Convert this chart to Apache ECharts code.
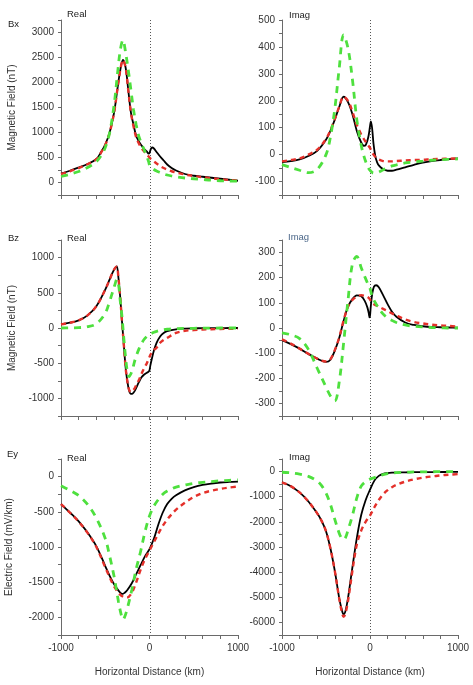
<!DOCTYPE html>
<html>
<head>
<meta charset="utf-8">
<script src="https://cdn.jsdelivr.net/npm/echarts@6/dist/echarts.min.js"></script>
<style>
  html, body { margin: 0; padding: 0; background: #fff; }
  #chart { width: 473px; height: 685px; }
</style>
</head>
<body>
<div id="chart"></div>
<script>
// ---- data ----
// Bx real
var bxReX = [-1000,-900,-800,-700,-600,-550,-500,-450,-400,-360,-330,-300,-270,-240,-210,-180,-150,-120,-90,-60,-30,-10,0,15,30,50,80,120,160,200,250,300,400,500,600,700,800,900,1000];
var bxReBlack = [180,235,300,370,470,600,760,1000,1400,1900,2250,2450,2300,1850,1400,1150,930,820,740,670,620,580,590,670,700,680,610,520,440,360,290,240,170,135,115,95,75,55,35];
var bxReRed = [170,225,290,365,465,590,750,1000,1400,1900,2250,2450,2300,1850,1400,1120,900,780,690,620,560,520,500,470,450,420,380,330,290,260,225,200,160,130,105,85,65,50,35];
var bxReGreen = [120,165,220,300,420,530,700,1000,1550,2200,2650,2850,2600,2250,1850,1450,1150,920,780,650,520,420,350,310,285,260,230,200,170,150,130,115,90,75,60,45,35,30,25];

// Bx imag
var bxImX = [-1000,-900,-800,-700,-600,-500,-450,-400,-350,-300,-250,-200,-150,-100,-70,-50,-30,-15,0,10,25,40,60,80,100,140,200,250,300,400,500,600,700,800,900,1000];
var bxImBlack = [-28,-24,-18,-5,14,55,88,130,177,215,195,150,88,45,33,35,52,72,105,123,95,40,-5,-28,-40,-52,-60,-60,-56,-47,-38,-30,-24,-20,-17,-14];
var bxImRed = [-25,-20,-14,0,18,58,90,132,178,215,200,160,110,75,58,48,38,32,25,18,8,0,-8,-14,-18,-23,-25,-25,-24,-22,-20,-19,-17,-16,-15,-14];
var bxImGreen = [-37,-48,-58,-67,-55,0,65,170,320,445,395,280,130,35,-5,-25,-42,-52,-58,-62,-66,-68,-68,-67,-65,-58,-48,-42,-38,-31,-27,-24,-21,-19,-17,-16];

// Bz real
var bzReX = [-1000,-900,-800,-700,-600,-500,-450,-420,-390,-370,-350,-330,-310,-290,-270,-250,-230,-210,-190,-170,-150,-120,-90,-60,-30,-10,0,10,30,50,80,120,160,200,300,400,500,600,700,800,900,1000];
var bzReBlack = [52,75,108,180,310,545,690,780,850,875,700,420,80,-240,-560,-760,-890,-935,-930,-900,-850,-770,-700,-660,-635,-620,-600,-530,-420,-320,-210,-120,-70,-45,-18,-9,-5,-3,-2,-1,0,0];
var bzReRed = [52,75,108,180,310,545,690,780,850,870,700,420,80,-240,-560,-760,-880,-910,-890,-860,-810,-740,-650,-570,-500,-440,-410,-380,-340,-310,-280,-210,-170,-140,-70,-40,-30,-22,-18,-14,-11,-10];
var bzReGreen = [0,2,5,18,60,210,380,500,620,690,620,380,150,-150,-420,-620,-690,-650,-580,-480,-400,-300,-220,-160,-120,-100,-95,-85,-72,-60,-48,-35,-25,-18,-10,-6,-4,-2,-1,0,0,0];

// Bz imag
var bzImX = [-1000,-900,-800,-700,-600,-500,-450,-400,-350,-300,-250,-200,-150,-100,-60,-30,-15,-5,0,10,25,45,70,100,150,200,250,300,400,500,600,700,800,900,1000];
var bzImBlack = [-48,-64,-82,-103,-122,-135,-126,-90,-40,28,85,115,130,126,108,82,60,42,48,90,135,165,170,162,130,95,65,45,22,12,7,4,3,2,1];
var bzImRed = [-45,-62,-82,-103,-122,-133,-124,-88,-38,30,85,112,125,130,128,124,120,116,113,108,100,95,90,85,76,68,58,50,34,24,18,13,10,8,6];
var bzImGreen = [-19,-27,-42,-85,-160,-235,-270,-290,-215,-60,110,255,285,240,205,180,170,162,158,145,125,110,95,78,55,40,30,22,12,7,4,2,1,0,0];

// Ey real
var eyReX = [-1000,-900,-800,-700,-600,-500,-450,-400,-350,-320,-300,-280,-250,-200,-150,-100,-50,0,50,100,150,200,250,300,400,500,600,700,800,900,1000];
var eyReBlack = [-390,-510,-635,-795,-990,-1270,-1410,-1530,-1620,-1660,-1665,-1650,-1610,-1515,-1385,-1255,-1130,-1030,-880,-680,-510,-390,-315,-265,-195,-150,-118,-98,-84,-76,-70];
var eyReRed = [-390,-510,-640,-800,-1000,-1290,-1430,-1560,-1650,-1690,-1705,-1715,-1715,-1650,-1500,-1320,-1170,-1050,-930,-810,-700,-610,-535,-470,-370,-290,-235,-200,-175,-155,-140];
var eyReGreen = [-130,-195,-270,-395,-590,-880,-1130,-1420,-1780,-1960,-2030,-1990,-1870,-1610,-1310,-1060,-780,-560,-420,-325,-250,-205,-175,-150,-120,-95,-82,-70,-60,-53,-47];

// Ey imag
var eyImX = [-1000,-900,-800,-700,-600,-550,-500,-450,-400,-350,-320,-300,-280,-250,-200,-150,-100,-50,0,50,100,150,200,250,300,400,500,600,700,800,900,1000];
var eyImBlack = [-425,-580,-830,-1190,-1660,-1960,-2370,-3050,-3950,-5030,-5500,-5680,-5560,-5030,-3810,-2650,-1730,-1140,-720,-360,-170,-90,-60,-45,-38,-30,-25,-22,-20,-18,-16,-15];
var eyImRed = [-425,-580,-830,-1190,-1660,-1960,-2370,-3050,-3950,-5050,-5580,-5780,-5650,-5150,-3950,-2900,-2350,-2000,-1750,-1420,-1130,-900,-740,-620,-530,-400,-310,-245,-195,-155,-125,-100];
var eyImGreen = [-27,-50,-100,-190,-380,-560,-850,-1300,-1900,-2450,-2660,-2700,-2640,-2330,-1750,-1050,-580,-400,-300,-240,-180,-120,-80,-55,-40,-25,-15,-10,-7,-5,-3,-2];

var xTickLabels = [-1000, 0, 1000];

// ---- layout ----
var font = "'Liberation Sans', Arial, sans-serif";
var cols = [{ left: 61, width: 177 }, { left: 282, width: 176 }];
var rows = [{ top: 20, height: 175 }, { top: 240, height: 176 }, { top: 459, height: 176 }];

// panel: [row, col, xs, black, red, green, min, max, tick step, label step]
var panels = [
  [0, 0, bxReX, bxReBlack, bxReRed, bxReGreen, -250, 3250, 250, 500],
  [0, 1, bxImX, bxImBlack, bxImRed, bxImGreen, -150, 500, 50, 100],
  [1, 0, bzReX, bzReBlack, bzReRed, bzReGreen, -1250, 1250, 250, 500],
  [1, 1, bzImX, bzImBlack, bzImRed, bzImGreen, -350, 350, 50, 100],
  [2, 0, eyReX, eyReBlack, eyReRed, eyReGreen, -2250, 250, 250, 500],
  [2, 1, eyImX, eyImBlack, eyImRed, eyImGreen, -6500, 500, 500, 1000]
];
var yNames = ['Magnetic Field (nT)', 'Magnetic Field (nT)', 'Electric Field (mV/km)'];

function pairs(xs, ys) {
  return xs.map(function (x, i) { return [x, ys[i]]; });
}

var lineColor = '#6a6a6a';
var grid = [], xAxis = [], yAxis = [], series = [];

panels.forEach(function (p, i) {
  var r = p[0], c = p[1];
  grid.push({ left: cols[c].left, width: cols[c].width, top: rows[r].top, height: rows[r].height });
  xAxis.push({
    type: 'value', gridIndex: i, min: -1000, max: 1000, interval: 200,
    axisLine: { onZero: false, lineStyle: { color: lineColor, width: 1 } },
    axisTick: { length: 4, lineStyle: { color: lineColor } },
    splitLine: { show: false },
    axisLabel: {
      show: r === 2, margin: 8, color: '#333', fontSize: 10, fontFamily: font,
      formatter: function (v) { return xTickLabels.indexOf(v) >= 0 ? String(v) : ''; }
    },
    name: r === 2 ? 'Horizontal Distance (km)' : '',
    nameLocation: 'middle', nameGap: 32,
    nameTextStyle: { color: '#333', fontSize: 10, fontFamily: font }
  });
  var step = p[9];
  yAxis.push({
    type: 'value', gridIndex: i, min: p[6], max: p[7], interval: p[8],
    axisLine: { show: true, onZero: false, lineStyle: { color: lineColor, width: 1 } },
    axisTick: { show: true, length: 3, lineStyle: { color: lineColor } },
    splitLine: { show: false },
    axisLabel: {
      margin: 7, color: '#333', fontSize: 10, fontFamily: font,
      formatter: function (v) { return v % step === 0 ? String(v) : ''; }
    },
    name: c === 0 ? yNames[r] : '',
    nameLocation: 'middle', nameGap: r === 2 ? 47 : 44,
    nameTextStyle: { color: '#333', fontSize: 10, fontFamily: font }
  });
  series.push({
    type: 'line', xAxisIndex: i, yAxisIndex: i, data: pairs(p[2], p[3]),
    smooth: 0.35, showSymbol: false, clip: true, z: 2,
    lineStyle: { color: '#000', width: 1.8 }
  });
  series.push({
    type: 'line', xAxisIndex: i, yAxisIndex: i, data: pairs(p[2], p[4]),
    smooth: 0.35, showSymbol: false, clip: true, z: 3,
    lineStyle: { color: '#e4302a', width: 2.4, type: [5, 4] }
  });
  series.push({
    type: 'line', xAxisIndex: i, yAxisIndex: i, data: pairs(p[2], p[5]),
    smooth: 0.35, showSymbol: false, clip: true, z: 4,
    lineStyle: { color: '#4ee03e', width: 2.8, type: [7, 6] }
  });
});

function label(text, x, y, color) {
  return {
    type: 'text', left: x, top: y - 6,
    style: { text: text, fill: color || '#222', font: '9.5px ' + font }
  };
}

// dotted line at x = 0, running through all three rows of each column
function zeroLine(col) {
  var x = Math.round(col.left + col.width / 2) + 0.5;
  return {
    type: 'line', z: 1,
    shape: { x1: x, y1: rows[0].top, x2: x, y2: rows[2].top + rows[2].height - 2 },
    style: { stroke: '#555', lineWidth: 1, lineDash: [1, 2] }
  };
}

var chart = echarts.init(document.getElementById('chart'), null, { renderer: 'canvas' });
chart.setOption({
  animation: false,
  backgroundColor: '#fff',
  grid: grid, xAxis: xAxis, yAxis: yAxis, series: series,
  graphic: [
    zeroLine(cols[0]), zeroLine(cols[1]),
    label('Bx', 8, 25), label('Bz', 8, 239), label('Ey', 7, 455),
    label('Real', 67, 15), label('Real', 67, 239), label('Real', 67, 459),
    label('Imag', 289, 16), label('Imag', 288, 238, '#4a6688'), label('Imag', 289, 458)
  ]
});
</script>
</body>
</html>
